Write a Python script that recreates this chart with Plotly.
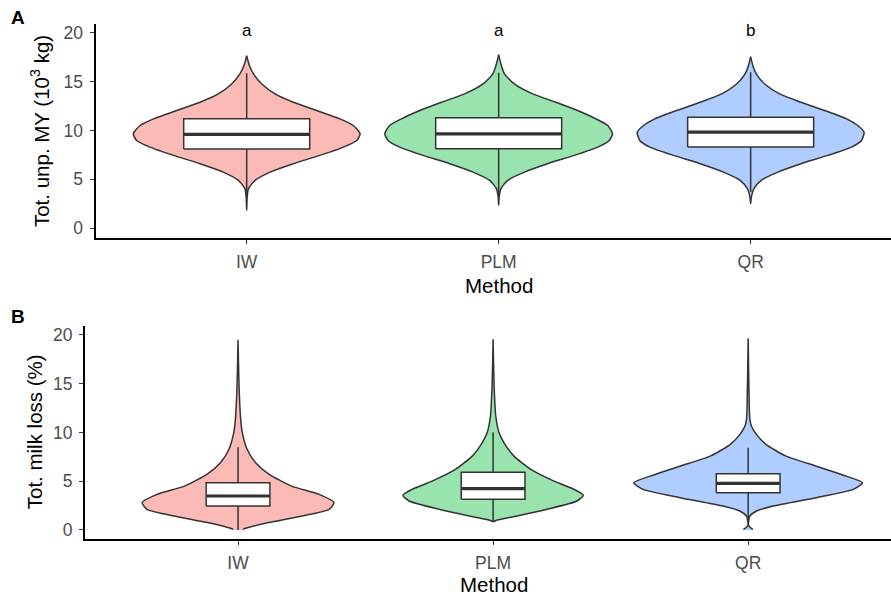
import plotly.graph_objects as go

methods = ["IW", "PLM", "QR"]
method_pos = [1, 2, 3]
fill_colors = ["rgba(248,118,109,0.5)", "rgba(0,186,56,0.4)", "rgba(97,156,255,0.5)"]
letters_a = ["a", "a", "b"]
letters_b = ["a", "b", "c"]

# ---- Panel A: Tot. unp. MY (10^3 kg) : violin outlines (value, half-width in category units)
a_iw_y = [1.84, 3.2, 4.05, 4.9, 5.74, 6.6, 7.45, 8.3, 8.98, 9.66, 10.51, 11.19, 12.04, 12.89, 13.74, 14.76, 15.8, 16.63, 17.65]
a_iw_hw = [0, 0.002, 0.007, 0.033, 0.093, 0.185, 0.29, 0.384, 0.437, 0.45, 0.423, 0.37, 0.278, 0.185, 0.113, 0.06, 0.027, 0.011, 0]
a_plm_y = [2.35, 3.2, 4.05, 4.9, 5.74, 6.6, 7.45, 8.3, 8.98, 9.66, 10.51, 11.19, 12.04, 12.89, 13.74, 14.76, 15.8, 16.7, 17.76]
a_plm_hw = [0, 0.002, 0.009, 0.036, 0.102, 0.194, 0.30, 0.393, 0.439, 0.452, 0.433, 0.386, 0.313, 0.227, 0.135, 0.062, 0.023, 0.01, 0]
a_qr_y = [2.52, 3.2, 4.05, 4.9, 5.74, 6.6, 7.45, 8.3, 8.98, 9.83, 10.51, 11.19, 12.04, 12.89, 13.74, 14.76, 15.8, 16.6, 17.55]
a_qr_hw = [0, 0.003, 0.013, 0.042, 0.108, 0.2, 0.306, 0.4, 0.44, 0.45, 0.425, 0.38, 0.294, 0.2, 0.115, 0.056, 0.022, 0.009, 0]

a_q1 = [8.1, 8.13, 8.3]
a_median = [9.6, 9.66, 9.83]
a_q3 = [11.2, 11.3, 11.36]
a_lower = [3.45, 3.38, 3.71]
a_upper = [15.85, 15.9, 15.95]

# ---- Panel B: Tot. milk loss (%)
b_iw_y = [0, 0.1, 0.25, 0.76, 1.43, 2.12, 2.8, 3.65, 4.5, 5.7, 6.89, 8.25, 9.96, 11.32, 14.72, 19.5]
b_iw_hw = [0.022, 0.022, 0.04, 0.12, 0.25, 0.357, 0.376, 0.318, 0.21, 0.122, 0.069, 0.036, 0.017, 0.0105, 0.004, 0]
b_plm_y = [0.86, 1.02, 1.43, 2.12, 2.97, 3.55, 4.16, 5.01, 6.21, 7.57, 8.94, 9.96, 11.66, 14.72, 19.57]
b_plm_hw = [0, 0.016, 0.094, 0.212, 0.329, 0.354, 0.318, 0.239, 0.148, 0.082, 0.043, 0.0235, 0.0105, 0.004, 0]
b_qr_y = [0, 0.1, 0.25, 0.5, 0.76, 1.43, 1.94, 2.45, 3.31, 4.16, 4.85, 5.52, 6.54, 7.57, 8.76, 9.78, 10.63, 11.32, 13.03, 19.67]
b_qr_hw = [0.016, 0.016, 0.008, 0.001, 0.001, 0.0067, 0.033, 0.098, 0.267, 0.412, 0.448, 0.384, 0.267, 0.149, 0.071, 0.033, 0.013, 0.0067, 0.004, 0]

b_q1 = [2.46, 3.14, 3.82]
b_median = [3.48, 4.23, 4.78]
b_q3 = [4.85, 5.93, 5.77]
b_lower = [0, 0.86, 0.9]
b_upper = [8.49, 10.02, 8.42]

OUTLINE = "#333333"
FONT = "Liberation Sans, Arial, sans-serif"

fig = go.Figure()


def add_violin(pos, ys, hws, color, xa, ya):
    xs = [pos - h for h in hws] + [pos + h for h in reversed(hws)]
    yy = list(ys) + list(reversed(ys))
    fig.add_trace(go.Scatter(x=xs, y=yy, mode="lines", fill="toself", fillcolor=color,
                             line=dict(color=OUTLINE, width=1.5, shape="spline", smoothing=0.6),
                             xaxis=xa, yaxis=ya, showlegend=False, hoverinfo="skip"))


def add_box(pos, q1, med, q3, lo, hi, width, xa, ya):
    half = width / 2
    # whiskers
    fig.add_trace(go.Scatter(x=[pos, pos, None, pos, pos], y=[lo, q1, None, q3, hi], mode="lines",
                             line=dict(color=OUTLINE, width=1.5), xaxis=xa, yaxis=ya,
                             showlegend=False, hoverinfo="skip"))
    # box
    fig.add_trace(go.Scatter(x=[pos - half, pos + half, pos + half, pos - half, pos - half],
                             y=[q1, q1, q3, q3, q1], mode="lines", fill="toself", fillcolor="white",
                             line=dict(color=OUTLINE, width=1.5), xaxis=xa, yaxis=ya,
                             showlegend=False, hoverinfo="skip"))
    # median
    fig.add_trace(go.Scatter(x=[pos - half, pos + half], y=[med, med], mode="lines",
                             line=dict(color=OUTLINE, width=3.2), xaxis=xa, yaxis=ya,
                             showlegend=False, hoverinfo="skip"))


a_viol = [(a_iw_y, a_iw_hw), (a_plm_y, a_plm_hw), (a_qr_y, a_qr_hw)]
b_viol = [(b_iw_y, b_iw_hw), (b_plm_y, b_plm_hw), (b_qr_y, b_qr_hw)]

for i, pos in enumerate(method_pos):
    add_violin(pos, a_viol[i][0], a_viol[i][1], fill_colors[i], "x", "y")
    add_box(pos, a_q1[i], a_median[i], a_q3[i], a_lower[i], a_upper[i], 0.5, "x", "y")
for i, pos in enumerate(method_pos):
    add_violin(pos, b_viol[i][0], b_viol[i][1], fill_colors[i], "x2", "y2")
    add_box(pos, b_q1[i], b_median[i], b_q3[i], b_lower[i], b_upper[i], 0.25, "x2", "y2")

W, H = 891, 599

axis_common = dict(showline=True, linecolor="black", linewidth=2, ticks="outside", ticklen=4,
                   tickwidth=1.2, tickcolor=OUTLINE, showgrid=False, zeroline=False,
                   tickfont=dict(family=FONT, size=17.5, color="#4D4D4D"))

fig.update_layout(
    width=W, height=H, margin=dict(l=0, r=0, t=0, b=0),
    paper_bgcolor="white", plot_bgcolor="white", showlegend=False,
    xaxis=dict(domain=[95.5 / W, 1], range=[0.4, 3.557], tickvals=method_pos, ticktext=methods,
               anchor="y", ticklabelstandoff=3, **axis_common),
    yaxis=dict(domain=[1 - 238 / H, 1 - 23 / H], range=[-1.02, 20.9], tickvals=[0, 5, 10, 15, 20],
               anchor="x", ticklabelstandoff=3, **axis_common),
    xaxis2=dict(domain=[85 / W, 1], range=[0.4, 3.56], tickvals=method_pos, ticktext=methods,
                anchor="y2", ticklabelstandoff=3, **axis_common),
    yaxis2=dict(domain=[1 - 540 / H, 1 - 326 / H], range=[-0.95, 20.93], tickvals=[0, 5, 10, 15, 20],
                anchor="x2", ticklabelstandoff=3, **axis_common),
)

ann = []
for i, pos in enumerate(method_pos):
    ann.append(dict(x=pos, y=20.2, xref="x", yref="y", text=letters_a[i], showarrow=False,
                    xanchor="center", yanchor="middle",
                    font=dict(family=FONT, size=17, color="black")))
    ann.append(dict(x=pos, y=21.0, xref="x2", yref="y2", text=letters_b[i], showarrow=False,
                    xanchor="center", yanchor="middle",
                    font=dict(family=FONT, size=17, color="black")))

title_font = dict(family=FONT, size=20.5, color="black")
ann += [
    dict(x=40 / W, y=1 - 130.5 / H, text="Tot. unp. MY (10<sup>3</sup> kg)", textangle=-90, font=title_font),
    dict(x=34 / W, y=1 - 432.7 / H, text="Tot. milk loss (%)", textangle=-90, font=title_font),
    dict(x=499 / W, y=1 - 285 / H, text="Method", font=title_font),
    dict(x=494 / W, y=1 - 585 / H, text="Method", font=title_font),
    dict(x=18 / W, y=1 - 17 / H, text="<b>A</b>", font=dict(family=FONT, size=19, color="black")),
    dict(x=18 / W, y=1 - 317 / H, text="<b>B</b>", font=dict(family=FONT, size=19, color="black")),
]
for a in ann[6:]:
    a.update(xref="paper", yref="paper", showarrow=False, xanchor="center", yanchor="middle")
fig.update_layout(annotations=ann)

fig.write_html("out.html")
